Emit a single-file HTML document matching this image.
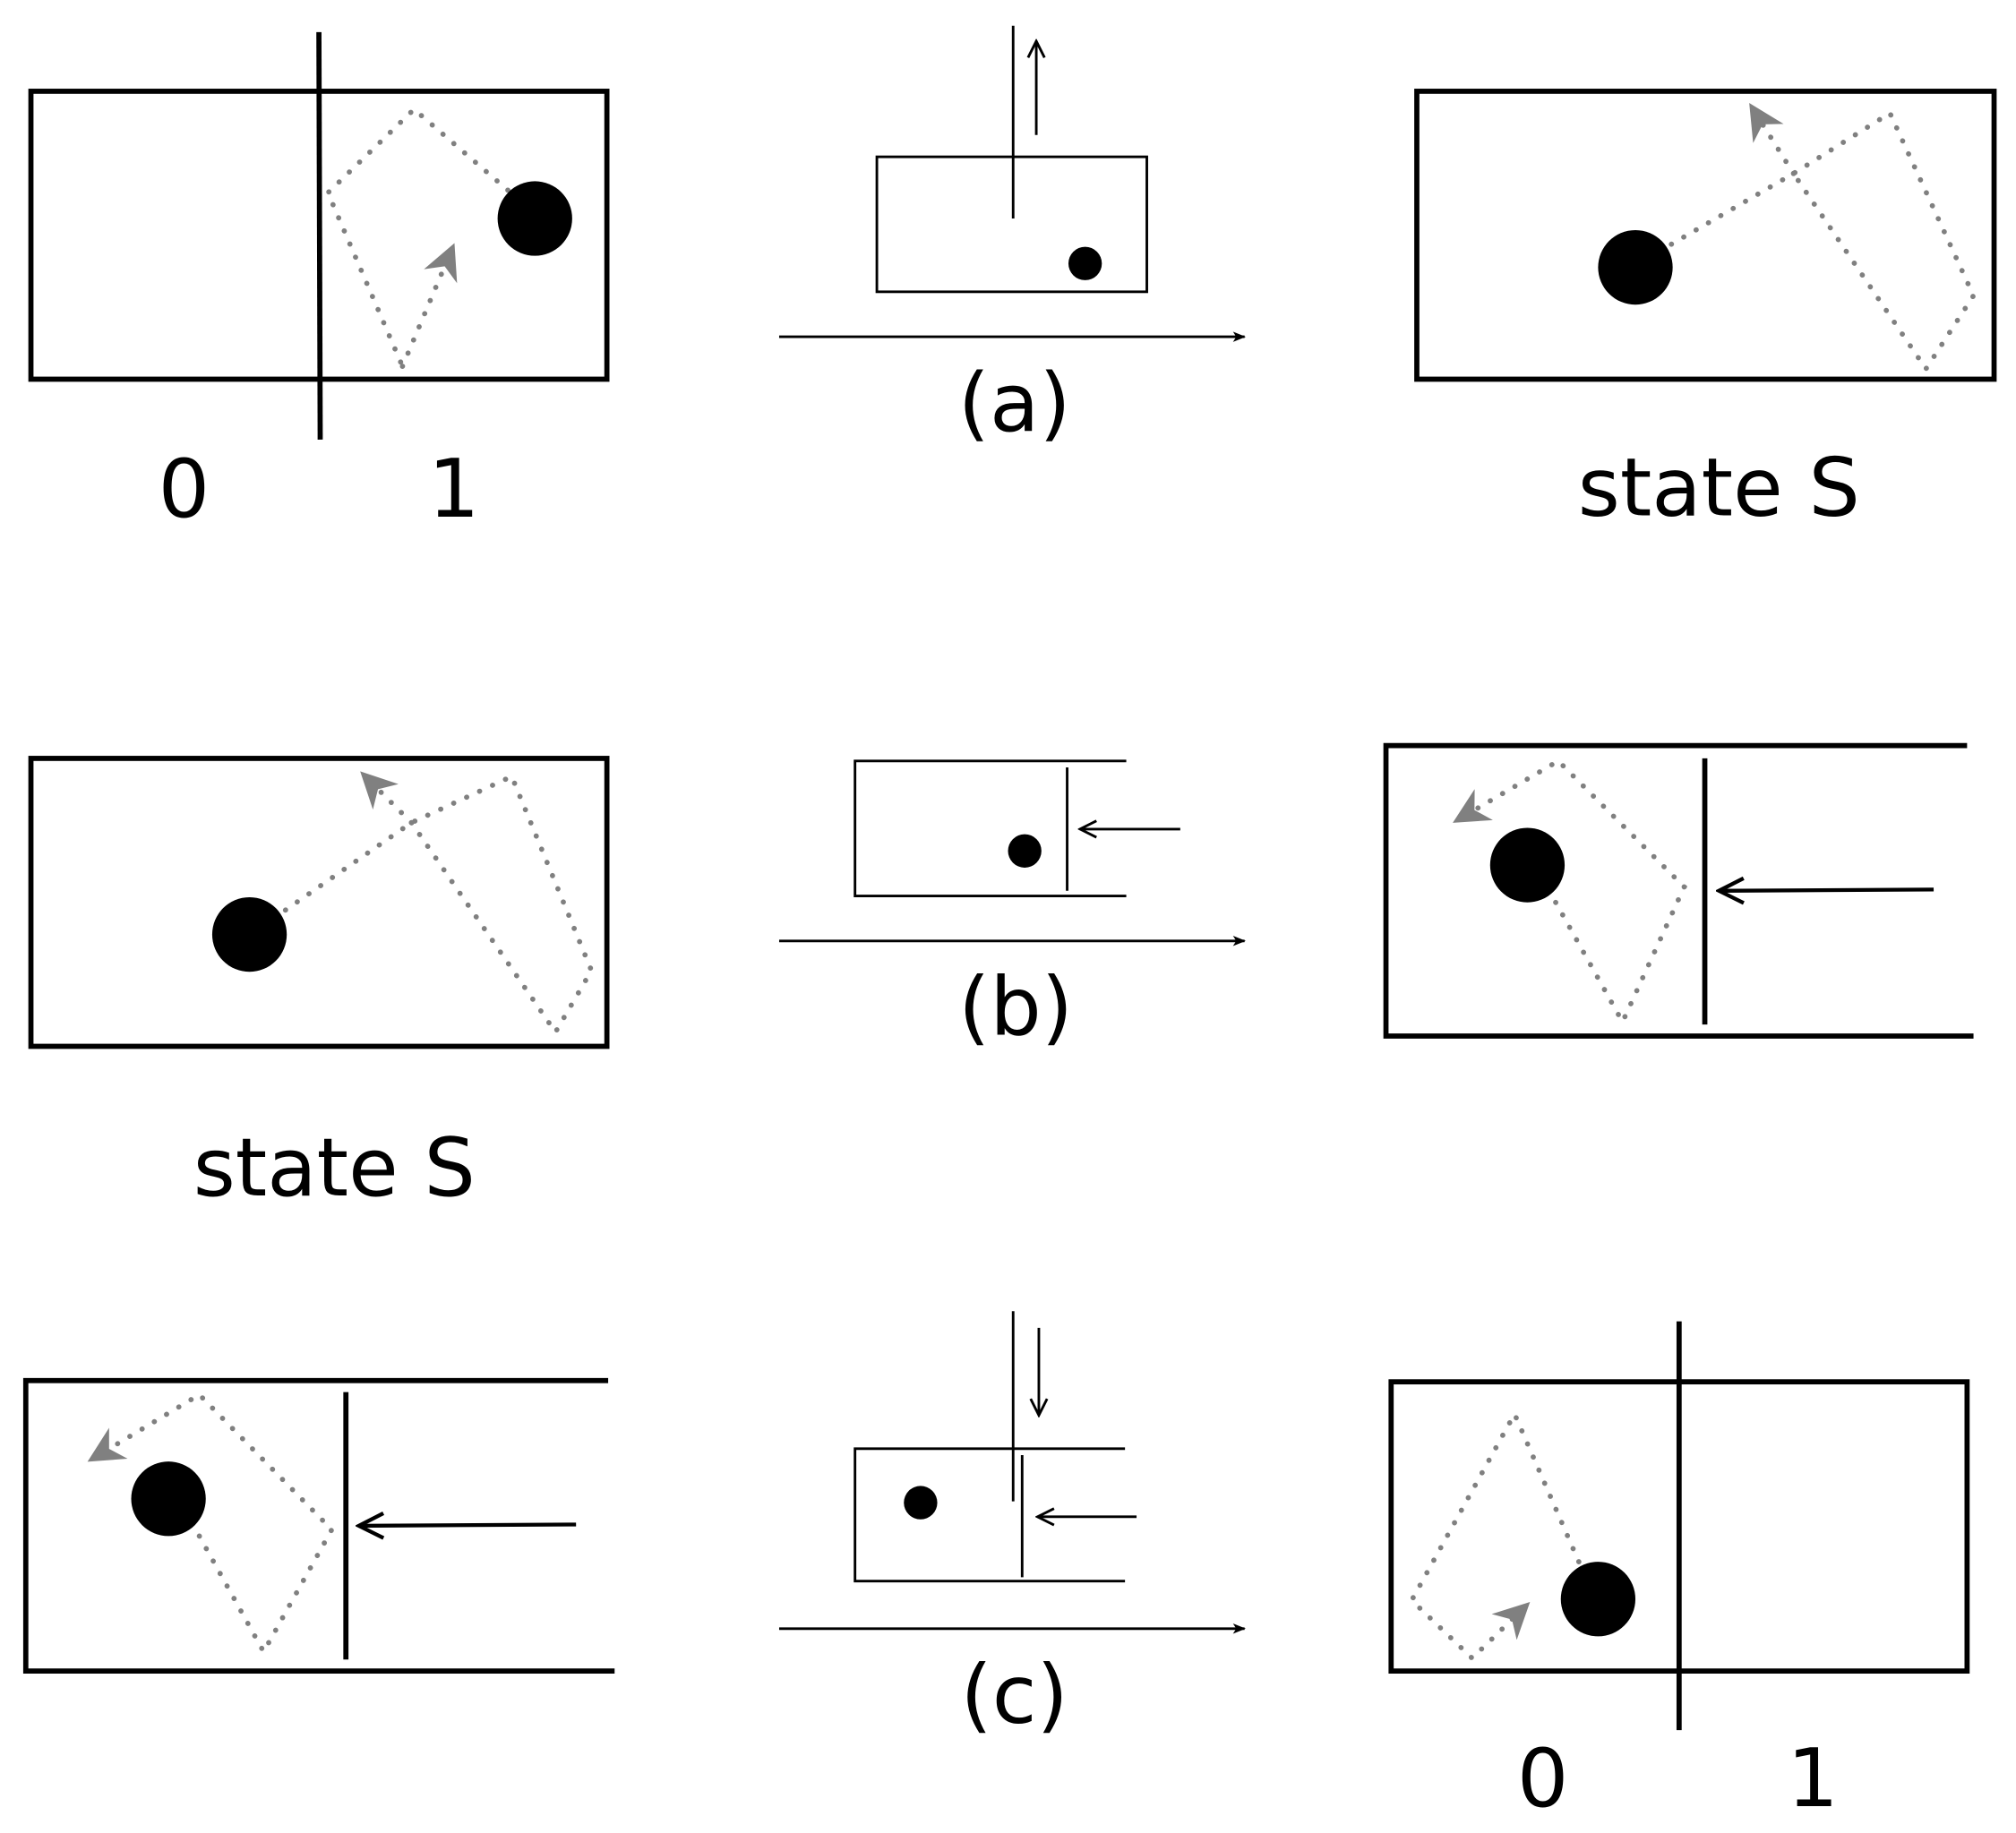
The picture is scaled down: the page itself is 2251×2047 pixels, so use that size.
<!DOCTYPE html>
<html><head><meta charset="utf-8"><style>
html,body{margin:0;padding:0;background:#fff;}
svg{display:block;}
text{font-family:"DejaVu Sans","Liberation Sans",sans-serif;fill:#000;}
</style></head><body>
<svg width="2251" height="2047" viewBox="0 0 1568 1426" xmlns="http://www.w3.org/2000/svg">
<defs>
<marker id="ga" viewBox="0 0 20 20" refX="10" refY="10" markerWidth="7" markerHeight="7" orient="auto" markerUnits="strokeWidth">
<path d="M0,0 L20,10 L0,20 L6,10 Z" fill="#808080"/></marker>
<marker id="ba" viewBox="0 0 20 20" refX="18" refY="10" markerWidth="10" markerHeight="10" orient="auto" markerUnits="userSpaceOnUse">
<path d="M0,2 L20,10 L0,18 L5,10 Z" fill="#000"/></marker>
<marker id="oa" viewBox="0 0 20 20" refX="18" refY="10" markerWidth="8" markerHeight="8" orient="auto" markerUnits="strokeWidth">
<path d="M2,2 L18,10 L2,18" fill="none" stroke="#000" stroke-width="2.5"/></marker>
</defs>
<g fill="none" stroke="#000">
<rect x="24" y="71" width="448" height="224" stroke-width="4"/>
<line x1="248" y1="25" x2="249" y2="342" stroke-width="4"/>
<rect x="682" y="122" width="210" height="105" stroke-width="2"/>
<line x1="788" y1="20" x2="788" y2="170" stroke-width="2"/>
<line x1="806" y1="105" x2="806" y2="32" stroke-width="2" marker-end="url(#oa)"/>
<line x1="606" y1="262" x2="968" y2="262" stroke-width="2" marker-end="url(#ba)"/>
<rect x="1102" y="71" width="449" height="224" stroke-width="4"/>
<rect x="24" y="590" width="448" height="224" stroke-width="4"/>
<path d="M876,592 H665 V697 H876" stroke-width="2"/>
<line x1="830" y1="597" x2="830" y2="693" stroke-width="2"/>
<line x1="918" y1="645" x2="840" y2="645" stroke-width="2" marker-end="url(#oa)"/>
<line x1="606" y1="732" x2="968" y2="732" stroke-width="2" marker-end="url(#ba)"/>
<path d="M1530,580 H1078 V806 H1535" stroke-width="4"/>
<line x1="1326" y1="590" x2="1326" y2="797" stroke-width="4"/>
<line x1="1504" y1="692" x2="1337" y2="693" stroke-width="3" marker-end="url(#oa)"/>
<path d="M473,1074 H20 V1300 H478" stroke-width="4"/>
<line x1="269" y1="1083" x2="269" y2="1291" stroke-width="4"/>
<line x1="448" y1="1186" x2="279" y2="1187" stroke-width="3" marker-end="url(#oa)"/>
<path d="M875,1127 H665 V1230 H875" stroke-width="2"/>
<line x1="788" y1="1020" x2="788" y2="1168" stroke-width="2"/>
<line x1="795" y1="1132" x2="795" y2="1227" stroke-width="2"/>
<line x1="808" y1="1033" x2="808" y2="1101" stroke-width="2" marker-end="url(#oa)"/>
<line x1="884" y1="1180" x2="807" y2="1180" stroke-width="2" marker-end="url(#oa)"/>
<line x1="606" y1="1267" x2="968" y2="1267" stroke-width="2" marker-end="url(#ba)"/>
<rect x="1082" y="1075" width="448" height="225" stroke-width="4"/>
<line x1="1306" y1="1028" x2="1306" y2="1346" stroke-width="4"/>
</g>
<g fill="none" stroke="#808080" stroke-width="4" stroke-dasharray="0.1 11" stroke-linecap="round">
<path d="M395,148 L322,85 L255,150 L313,285"/>
<path d="M313,285 L348,202" marker-end="url(#ga)"/>
<path d="M1300,190 L1395,135 L1470,88 L1535,230 L1498,287 L1395,135"/>
<path d="M1395,135 L1368,92" marker-end="url(#ga)"/>
<path d="M222,708 L320,640 L398,604 L460,755 L432,803 L320,640"/>
<path d="M320,640 L290,610" marker-end="url(#ga)"/>
<path d="M1210,702 L1262,795 L1310,690 L1212,592 L1142,633" marker-end="url(#ga)"/>
<path d="M155,1195 L205,1285 L258,1190 L155,1085 L80,1130" marker-end="url(#ga)"/>
<path d="M1228,1215 L1178,1100 L1098,1245 L1145,1290 L1180,1256" marker-end="url(#ga)"/>
</g>
<g fill="#000">
<circle cx="416" cy="170" r="29"/>
<circle cx="844" cy="205" r="13"/>
<circle cx="1272" cy="208" r="29"/>
<circle cx="194" cy="727" r="29"/>
<circle cx="797" cy="662" r="13"/>
<circle cx="1188" cy="673" r="29"/>
<circle cx="131" cy="1166" r="29"/>
<circle cx="716" cy="1169" r="13"/>
<circle cx="1243" cy="1244" r="29"/>
</g>
<g font-size="63" text-anchor="middle">
<text x="143" y="402">0</text>
<text x="353" y="402">1</text>
<text x="789" y="335">(a)</text>
<text x="1337" y="401">state S</text>
<text x="790" y="805">(b)</text>
<text x="260" y="930">state S</text>
<text x="789" y="1340">(c)</text>
<text x="1200" y="1405">0</text>
<text x="1410" y="1405">1</text>
</g>
</svg>
</body></html>
